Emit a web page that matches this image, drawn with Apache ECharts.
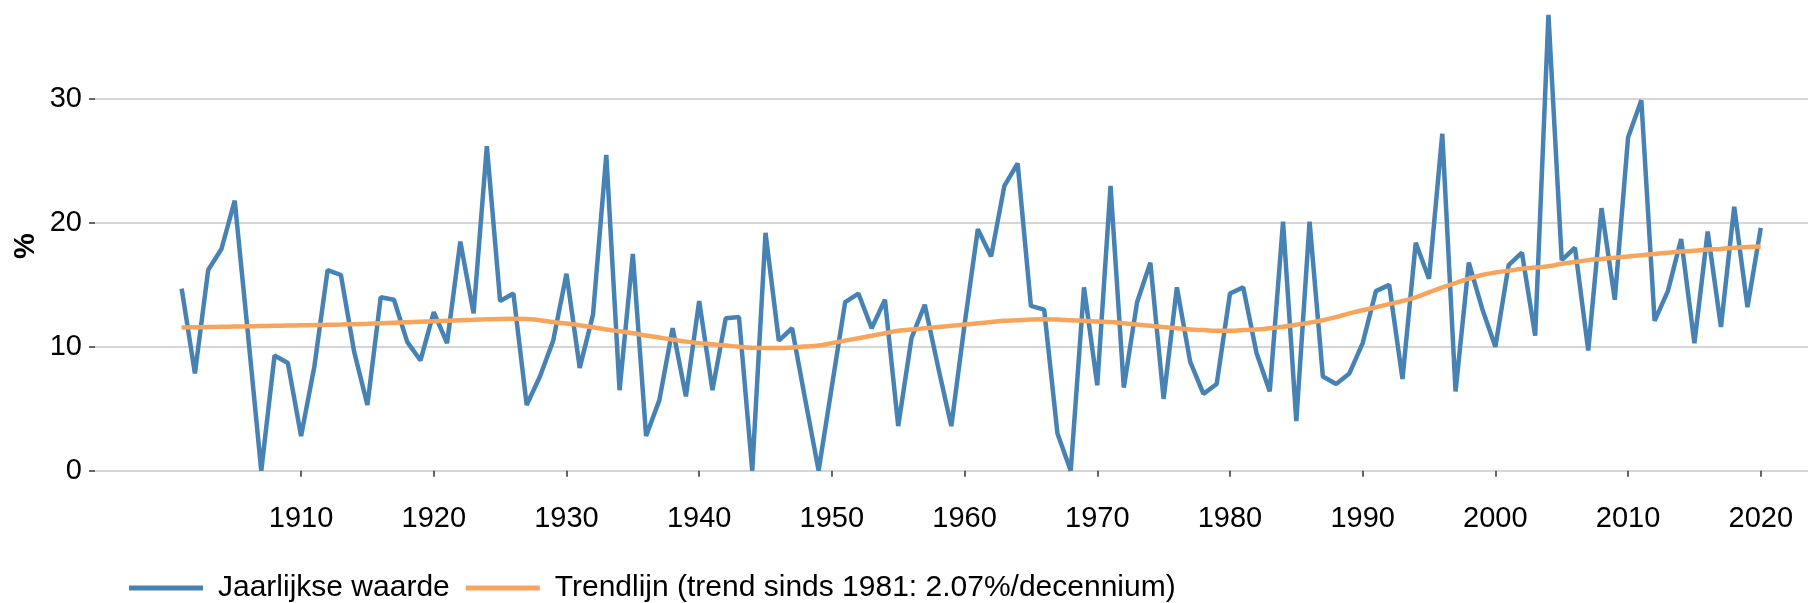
<!DOCTYPE html>
<html>
<head>
<meta charset="utf-8">
<title>Jaarlijkse waarde</title>
<script src="https://cdn.jsdelivr.net/npm/echarts@6/dist/echarts.min.js"></script>
<style>
    html, body { margin: 0; padding: 0; background: #fff; }
    #chart { width: 1808px; height: 603px; }
</style>
</head>
<body>
<div id="chart"></div>
<script>
    // jaren 1901 - 2020
    var firstYear = 1901;
    var yearly = [
        14.7, 7.85, 16.2, 17.9, 21.8, 11.0, 0, 9.3, 8.7, 2.8,
        8.4, 16.2, 15.8, 9.6, 5.3, 14.0, 13.8, 10.4, 8.9, 12.8,
        10.3, 18.5, 12.7, 26.2, 13.7, 14.3, 5.3, 7.6, 10.5, 15.9,
        8.3, 12.6, 25.5, 6.5, 17.5, 2.8, 5.7, 11.5, 6.0, 13.7,
        6.5, 12.3, 12.4, 0, 19.2, 10.5, 11.5, 5.7, 0, 6.8,
        13.6, 14.3, 11.5, 13.8, 3.6, 10.7, 13.4, 8.4, 3.6, 11.8,
        19.5, 17.3, 23.0, 24.8, 13.3, 13.0, 3.0, 0, 14.8, 6.9,
        23.0, 6.7, 13.6, 16.8, 5.8, 14.8, 8.8, 6.2, 7.0, 14.3,
        14.8, 9.5, 6.4, 20.1, 4.0, 20.1, 7.6, 7.0, 7.85, 10.3,
        14.5, 15.0, 7.4, 18.4, 15.5, 27.2, 6.4, 16.8, 13.1, 10.0,
        16.6, 17.6, 10.9, 36.8, 17.0, 18.0, 9.7, 21.2, 13.8, 26.9,
        29.9, 12.1, 14.5, 18.7, 10.3, 19.3, 11.6, 21.3, 13.2, 19.6
    ];
    var trend = [
        11.56, 11.58, 11.6, 11.62, 11.64, 11.66, 11.68, 11.7, 11.72, 11.74,
        11.76, 11.78, 11.8, 11.83, 11.86, 11.9, 11.94, 11.98, 12.02, 12.06,
        12.1, 12.14, 12.18, 12.22, 12.25, 12.26, 12.24, 12.15, 12.0, 11.88,
        11.75, 11.58, 11.4, 11.25, 11.1, 10.92, 10.75, 10.58, 10.42, 10.3,
        10.2, 10.1, 10.0, 9.93, 9.9, 9.9, 9.95, 10.02, 10.1, 10.3,
        10.5, 10.7, 10.9, 11.1, 11.3, 11.4, 11.5, 11.6, 11.7, 11.8,
        11.9, 12.0, 12.1, 12.15, 12.2, 12.22, 12.2, 12.15, 12.1, 12.05,
        12.0, 11.9, 11.8, 11.7, 11.6, 11.5, 11.4, 11.35, 11.3, 11.3,
        11.35, 11.4, 11.5, 11.62, 11.78, 11.95, 12.15, 12.4, 12.7, 12.95,
        13.2, 13.45, 13.7, 14.0, 14.4, 14.8, 15.15, 15.5, 15.8, 16.0,
        16.15, 16.3, 16.4, 16.5, 16.7, 16.85, 17.0, 17.1, 17.2, 17.3,
        17.4, 17.5, 17.6, 17.7, 17.75, 17.85, 17.9, 18.0, 18.05, 18.1
    ];
    var xTicks = [1910, 1920, 1930, 1940, 1950, 1960, 1970, 1980, 1990, 2000, 2010, 2020];
    var yTicks = [0, 10, 20, 30];

    var seriesNames = ['Jaarlijkse waarde', 'Trendlijn (trend sinds 1981: 2.07%/decennium)'];

    function pairs(values) {
        return values.map(function (v, i) { return [firstYear + i, v]; });
    }

    var font = 'Liberation Sans, Arial, sans-serif';
    var chart = echarts.init(document.getElementById('chart'));
    chart.setOption({
        animation: false,
        textStyle: { fontFamily: font },
        grid: { left: 95, right: 0, top: 0, bottom: 110, containLabel: false, outerBoundsMode: 'none' },
        // as-titel "%", gedraaid
        graphic: [{
            type: 'text',
            x: 26,
            y: 246,
            rotation: Math.PI / 2,
            style: {
                text: '%',
                font: 'bold 29px Liberation Sans, Arial, sans-serif',
                fill: '#000',
                align: 'center',
                verticalAlign: 'middle'
            }
        }],
        legend: {
            data: seriesNames,
            left: 124,
            top: 568,
            icon: 'rect',
            itemWidth: 74,
            itemHeight: 5,
            itemGap: 16,
            textStyle: { fontSize: 30, color: '#000', fontFamily: font, padding: [0, 0, 0, 10] }
        },
        xAxis: {
            type: 'value',
            min: 1894.47,
            max: 2023.56,
            axisLine: { show: false },
            axisTick: { show: true, length: 6, customValues: xTicks, lineStyle: { color: '#333', width: 1.5 } },
            axisLabel: {
                customValues: xTicks,
                fontSize: 29,
                color: '#000',
                margin: 11,
                formatter: function (v) { return String(v); }
            },
            splitLine: { show: false }
        },
        yAxis: {
            type: 'value',
            min: -1.8,
            max: 38,
            axisLine: { show: false },
            axisTick: { show: true, length: 6, customValues: yTicks, lineStyle: { color: '#333', width: 1.5 } },
            axisLabel: { customValues: yTicks, fontSize: 29, color: '#000', margin: 13 },
            splitLine: { show: true, lineStyle: { color: '#c8c8c8', width: 1.5 } }
        },
        series: [
            {
                name: seriesNames[0],
                type: 'line',
                symbol: 'none',
                data: pairs(yearly),
                itemStyle: { color: '#4682b4' },
                lineStyle: { color: '#4682b4', width: 4.5 },
                z: 2
            },
            {
                name: seriesNames[1],
                type: 'line',
                symbol: 'none',
                smooth: true,
                data: pairs(trend),
                itemStyle: { color: '#f7a55d' },
                lineStyle: { color: '#f7a55d', width: 4.5 },
                z: 3
            }
        ]
    });
</script>
</body>
</html>
